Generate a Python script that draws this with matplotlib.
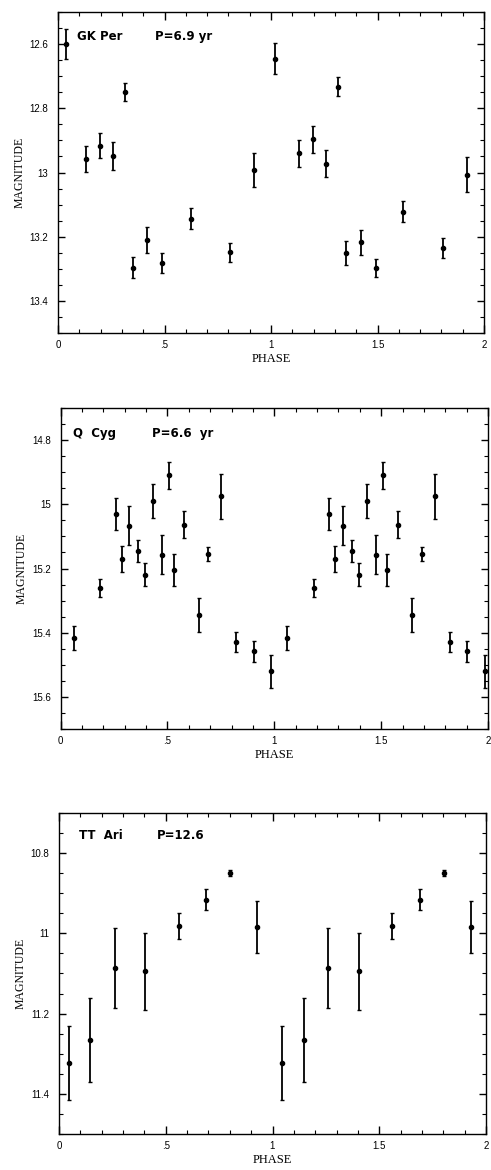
import matplotlib
matplotlib.use("Agg")
import matplotlib.pyplot as plt
from matplotlib.ticker import MultipleLocator, FuncFormatter
import numpy as np

# ---------------- data ----------------
# GK Per (both plotted cycles, as drawn)
gk_phase = [0.036, 0.133, 0.196, 0.26, 0.313, 0.352, 0.419, 0.49, 0.623, 0.809, 0.92,
            1.02, 1.133, 1.199, 1.26, 1.316, 1.354, 1.421, 1.491, 1.621, 1.806, 1.919]
gk_mag = [12.6, 12.957, 12.916, 12.949, 12.749, 13.296, 13.211, 13.282, 13.144, 13.249, 12.991,
          12.645, 12.94, 12.896, 12.973, 12.733, 13.25, 13.218, 13.299, 13.122, 13.235, 13.007]
gk_err = [0.047, 0.04, 0.04, 0.043, 0.027, 0.034, 0.04, 0.03, 0.033, 0.03, 0.053,
          0.047, 0.042, 0.042, 0.042, 0.029, 0.037, 0.04, 0.028, 0.032, 0.03, 0.054]

# Q Cyg (one cycle, repeated at phase + 1)
qc_phase = [0.061, 0.186, 0.258, 0.286, 0.320, 0.364, 0.395, 0.433, 0.475, 0.507,
            0.529, 0.577, 0.646, 0.692, 0.753, 0.822, 0.904, 0.987]
qc_mag = [15.416, 15.26, 15.031, 15.17, 15.067, 15.145, 15.22, 14.99, 15.157, 14.91,
          15.204, 15.063, 15.345, 15.154, 14.975, 15.43, 15.458, 15.52]
qc_err = [0.037, 0.028, 0.05, 0.041, 0.061, 0.034, 0.036, 0.052, 0.061, 0.043,
          0.05, 0.042, 0.054, 0.022, 0.07, 0.031, 0.033, 0.052]

# TT Ari (one cycle, repeated at phase + 1)
tt_phase = [0.046, 0.146, 0.26, 0.405, 0.560, 0.690, 0.802, 0.928]
tt_mag = [11.324, 11.265, 11.086, 11.095, 10.981, 10.916, 10.849, 10.985]
tt_err = [0.092, 0.105, 0.10, 0.097, 0.033, 0.026, 0.007, 0.065]

titles = [("GK Per", "P=6.9 yr"), ("Q  Cyg", "P=6.6  yr"), ("TT  Ari", "P=12.6")]
ylims = [(13.5, 12.5), (15.7, 14.7), (11.5, 10.7)]
xtick_labels = {0.0: "0", 0.5: ".5", 1.0: "1", 1.5: "1.5", 2.0: "2"}

# ---------------- figure ----------------
W, H = 491, 1170
fig = plt.figure(figsize=(W / 100, H / 100), dpi=100)

# axes rectangles in pixels: left, top, right, bottom
rects_px = [(58, 12, 484, 333), (60.5, 408, 488, 729), (59, 813, 486, 1134)]

def px_rect(l, t, r, b):
    return [l / W, 1 - b / H, (r - l) / W, (b - t) / H]

def one_cycle_twice(ph, mg, er):
    ph = np.asarray(ph); mg = np.asarray(mg); er = np.asarray(er)
    return np.concatenate([ph, ph + 1]), np.concatenate([mg, mg]), np.concatenate([er, er])

datasets = [
    (np.asarray(gk_phase), np.asarray(gk_mag), np.asarray(gk_err)),
    one_cycle_twice(qc_phase, qc_mag, qc_err),
    one_cycle_twice(tt_phase, tt_mag, tt_err),
]
title_pos = [((0.045, 0.925), (0.228, 0.925)),
             ((0.03, 0.922), (0.215, 0.922)),
             ((0.047, 0.931), (0.23, 0.931))]

def yfmt(v, pos):
    s = f"{v:.1f}"
    if s.endswith(".0"):
        s = s[:-2]
    return s

def xfmt(v, pos):
    return xtick_labels.get(round(v, 2), "")

for i, (rect, (ph, mg, er)) in enumerate(zip(rects_px, datasets)):
    ax = fig.add_axes(px_rect(*rect))
    ax.errorbar(ph, mg, yerr=er, fmt='o', color='black', ms=3.0, mec='black',
                elinewidth=1.3, capsize=1.6, capthick=1.0)
    ax.set_xlim(0, 2)
    ax.set_ylim(*ylims[i])
    ax.xaxis.set_major_locator(MultipleLocator(0.5))
    ax.xaxis.set_minor_locator(MultipleLocator(0.1))
    ax.yaxis.set_major_locator(MultipleLocator(0.2))
    ax.yaxis.set_minor_locator(MultipleLocator(0.05))
    ax.xaxis.set_major_formatter(FuncFormatter(xfmt))
    ax.yaxis.set_major_formatter(FuncFormatter(yfmt))
    ax.tick_params(which='both', direction='in', top=True, right=True, color='black')
    ax.tick_params(axis='x', which='major', length=6, width=1.0, pad=5)
    ax.tick_params(axis='x', which='minor', length=3, width=0.8)
    ax.tick_params(axis='y', which='major', length=5, width=1.0, pad=7)
    ax.tick_params(axis='y', which='minor', length=3, width=0.8)
    for lab in ax.get_xticklabels() + ax.get_yticklabels():
        lab.set_fontfamily('Liberation Sans')
        lab.set_fontsize(7)
    for sp in ax.spines.values():
        sp.set_linewidth(1.0)
    ax.set_xlabel("PHASE", fontfamily='Liberation Serif', fontsize=9, labelpad=2)
    ax.set_ylabel("MAGNITUDE", fontfamily='Liberation Serif', fontsize=8.5, labelpad=3)
    (x1, y1), (x2, y2) = title_pos[i]
    ax.text(x1, y1, titles[i][0], transform=ax.transAxes, fontsize=8.5,
            fontweight='bold', family='DejaVu Sans', va='center', ha='left')
    ax.text(x2, y2, titles[i][1], transform=ax.transAxes, fontsize=8.5,
            fontweight='bold', family='DejaVu Sans', va='center', ha='left')

fig.savefig("out.png", dpi=100)
